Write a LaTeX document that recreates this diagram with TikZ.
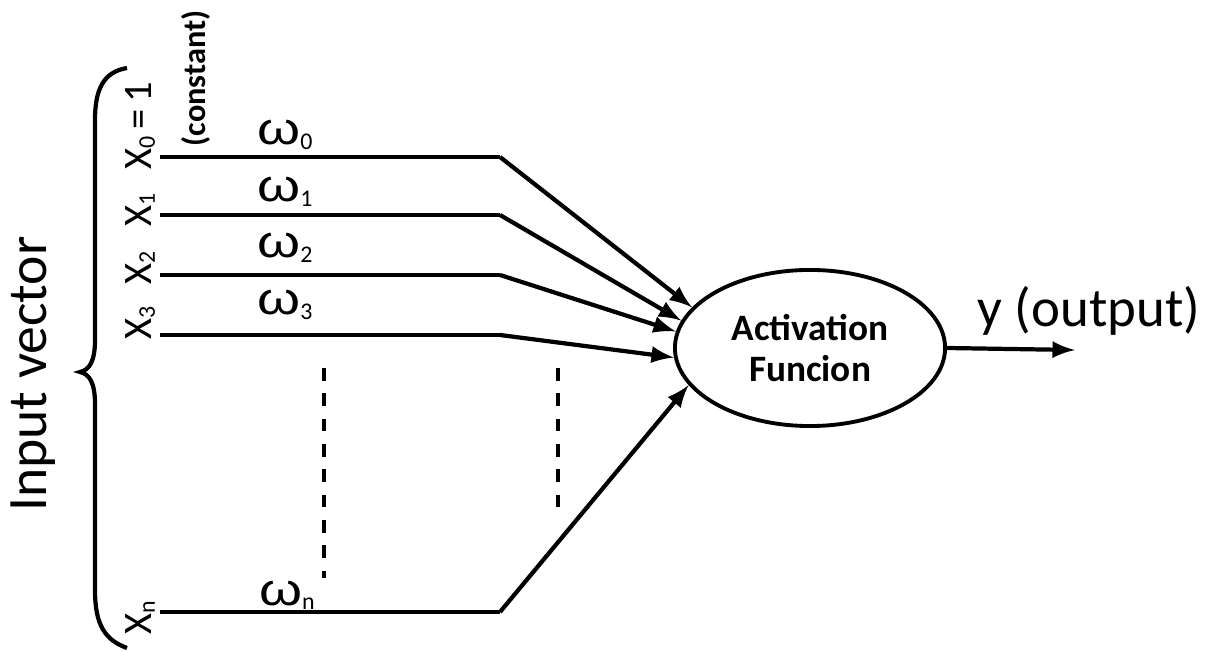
\documentclass[tikz,border=0pt]{standalone}
\usepackage{fontspec}
\usepackage{graphicx}
\setmainfont{Carlito}
\newfontfamily\grk{Liberation Sans}
\usetikzlibrary{arrows}
\usetikzlibrary{shapes.geometric}
\newcommand{\sbs}[1]{\raisebox{-0.2ex}{\fontsize{6.8}{7}\selectfont #1}}
\newcommand{\om}{\scalebox{1.12}[0.92]{\grk ω}}

\begin{document}
\begin{tikzpicture}[x=0.01cm,y=-0.01cm,>=latex,
  wire/.style={line width=1.2pt},
  guide/.style={line width=0.9pt, dash pattern=on 3.6pt off 3.6pt},
  xlab/.style={rotate=90, anchor=base west, inner sep=0pt, font=\fontsize{11.5}{13}\selectfont},
  wlab/.style={anchor=base, inner sep=0pt, font=\fontsize{14}{16}\selectfont}]
\useasboundingbox (0,0) rectangle (1218,652);
%\draw[help lines,step=50] (0,0) grid (1218,652);
\node[ellipse, draw, line width=1.1pt, minimum width=2.7cm, minimum height=1.56cm, inner sep=0pt,
  align=center, font=\bfseries\fontsize{10.6}{11.7}\selectfont] (act) at (810,348) {Activation\\Funcion};
% inputs and weights
\foreach \i/\y/\a in {0/157/161, 1/215/168, 2/275/173, 3/335/184, n/612/197} {
  \coordinate (s\i) at (160,\y);
  \coordinate (e\i) at (500,\y);
  \draw[wire] (s\i) -- (e\i);
  \draw[wire,->] (e\i) -- (act.\a);
}
\node[xlab] (x0) at (151,170) {X\sbs{0}\,=\,1};
\node[xlab] (x1) at (151,227) {X\sbs{1}};
\node[xlab] (x2) at (151,285) {X\sbs{2}};
\node[xlab] (x3) at (151,340) {X\sbs{3}};
\node[xlab] (xn) at (151,635) {X\sbs{n}};
\node[rotate=90, anchor=base west, inner sep=0pt, font=\bfseries\fontsize{9.2}{11}\selectfont] (const) at (205,147) {(constant)};
\node[wlab] (w0) at (285,145) {\om\sbs{0}};
\node[wlab] (w1) at (285,202) {\om\sbs{1}};
\node[wlab] (w2) at (285,258) {\om\sbs{2}};
\node[wlab] (w3) at (285,315) {\om\sbs{3}};
\node[wlab] (wn) at (287,605) {\om\sbs{n}};
% dots
\draw[guide] (324,368) -- (324,578);
\draw[guide] (558,368) -- (558,508);
% brace
\draw[line width=1.2pt] (127,68) .. controls (103,72) and (95,90) .. (95,120) -- (95,340)
  .. controls (95,362) and (89,370) .. (80,372) .. controls (89,374) and (95,382) .. (95,404)
  -- (95,590) .. controls (95,625) and (105,640) .. (127,648);
\node[rotate=90, anchor=base, inner sep=0pt, font=\fontsize{15.8}{18}\selectfont] (invec) at (47,374) {Input vector};
% output
\coordinate (out) at (1075,350);
\draw[wire,->] (act.east) -- (out);
\node[anchor=base, inner sep=0pt, font=\fontsize{15.6}{18}\selectfont] (y) at (1089,327) {y (output)};
\end{tikzpicture}
\end{document}
